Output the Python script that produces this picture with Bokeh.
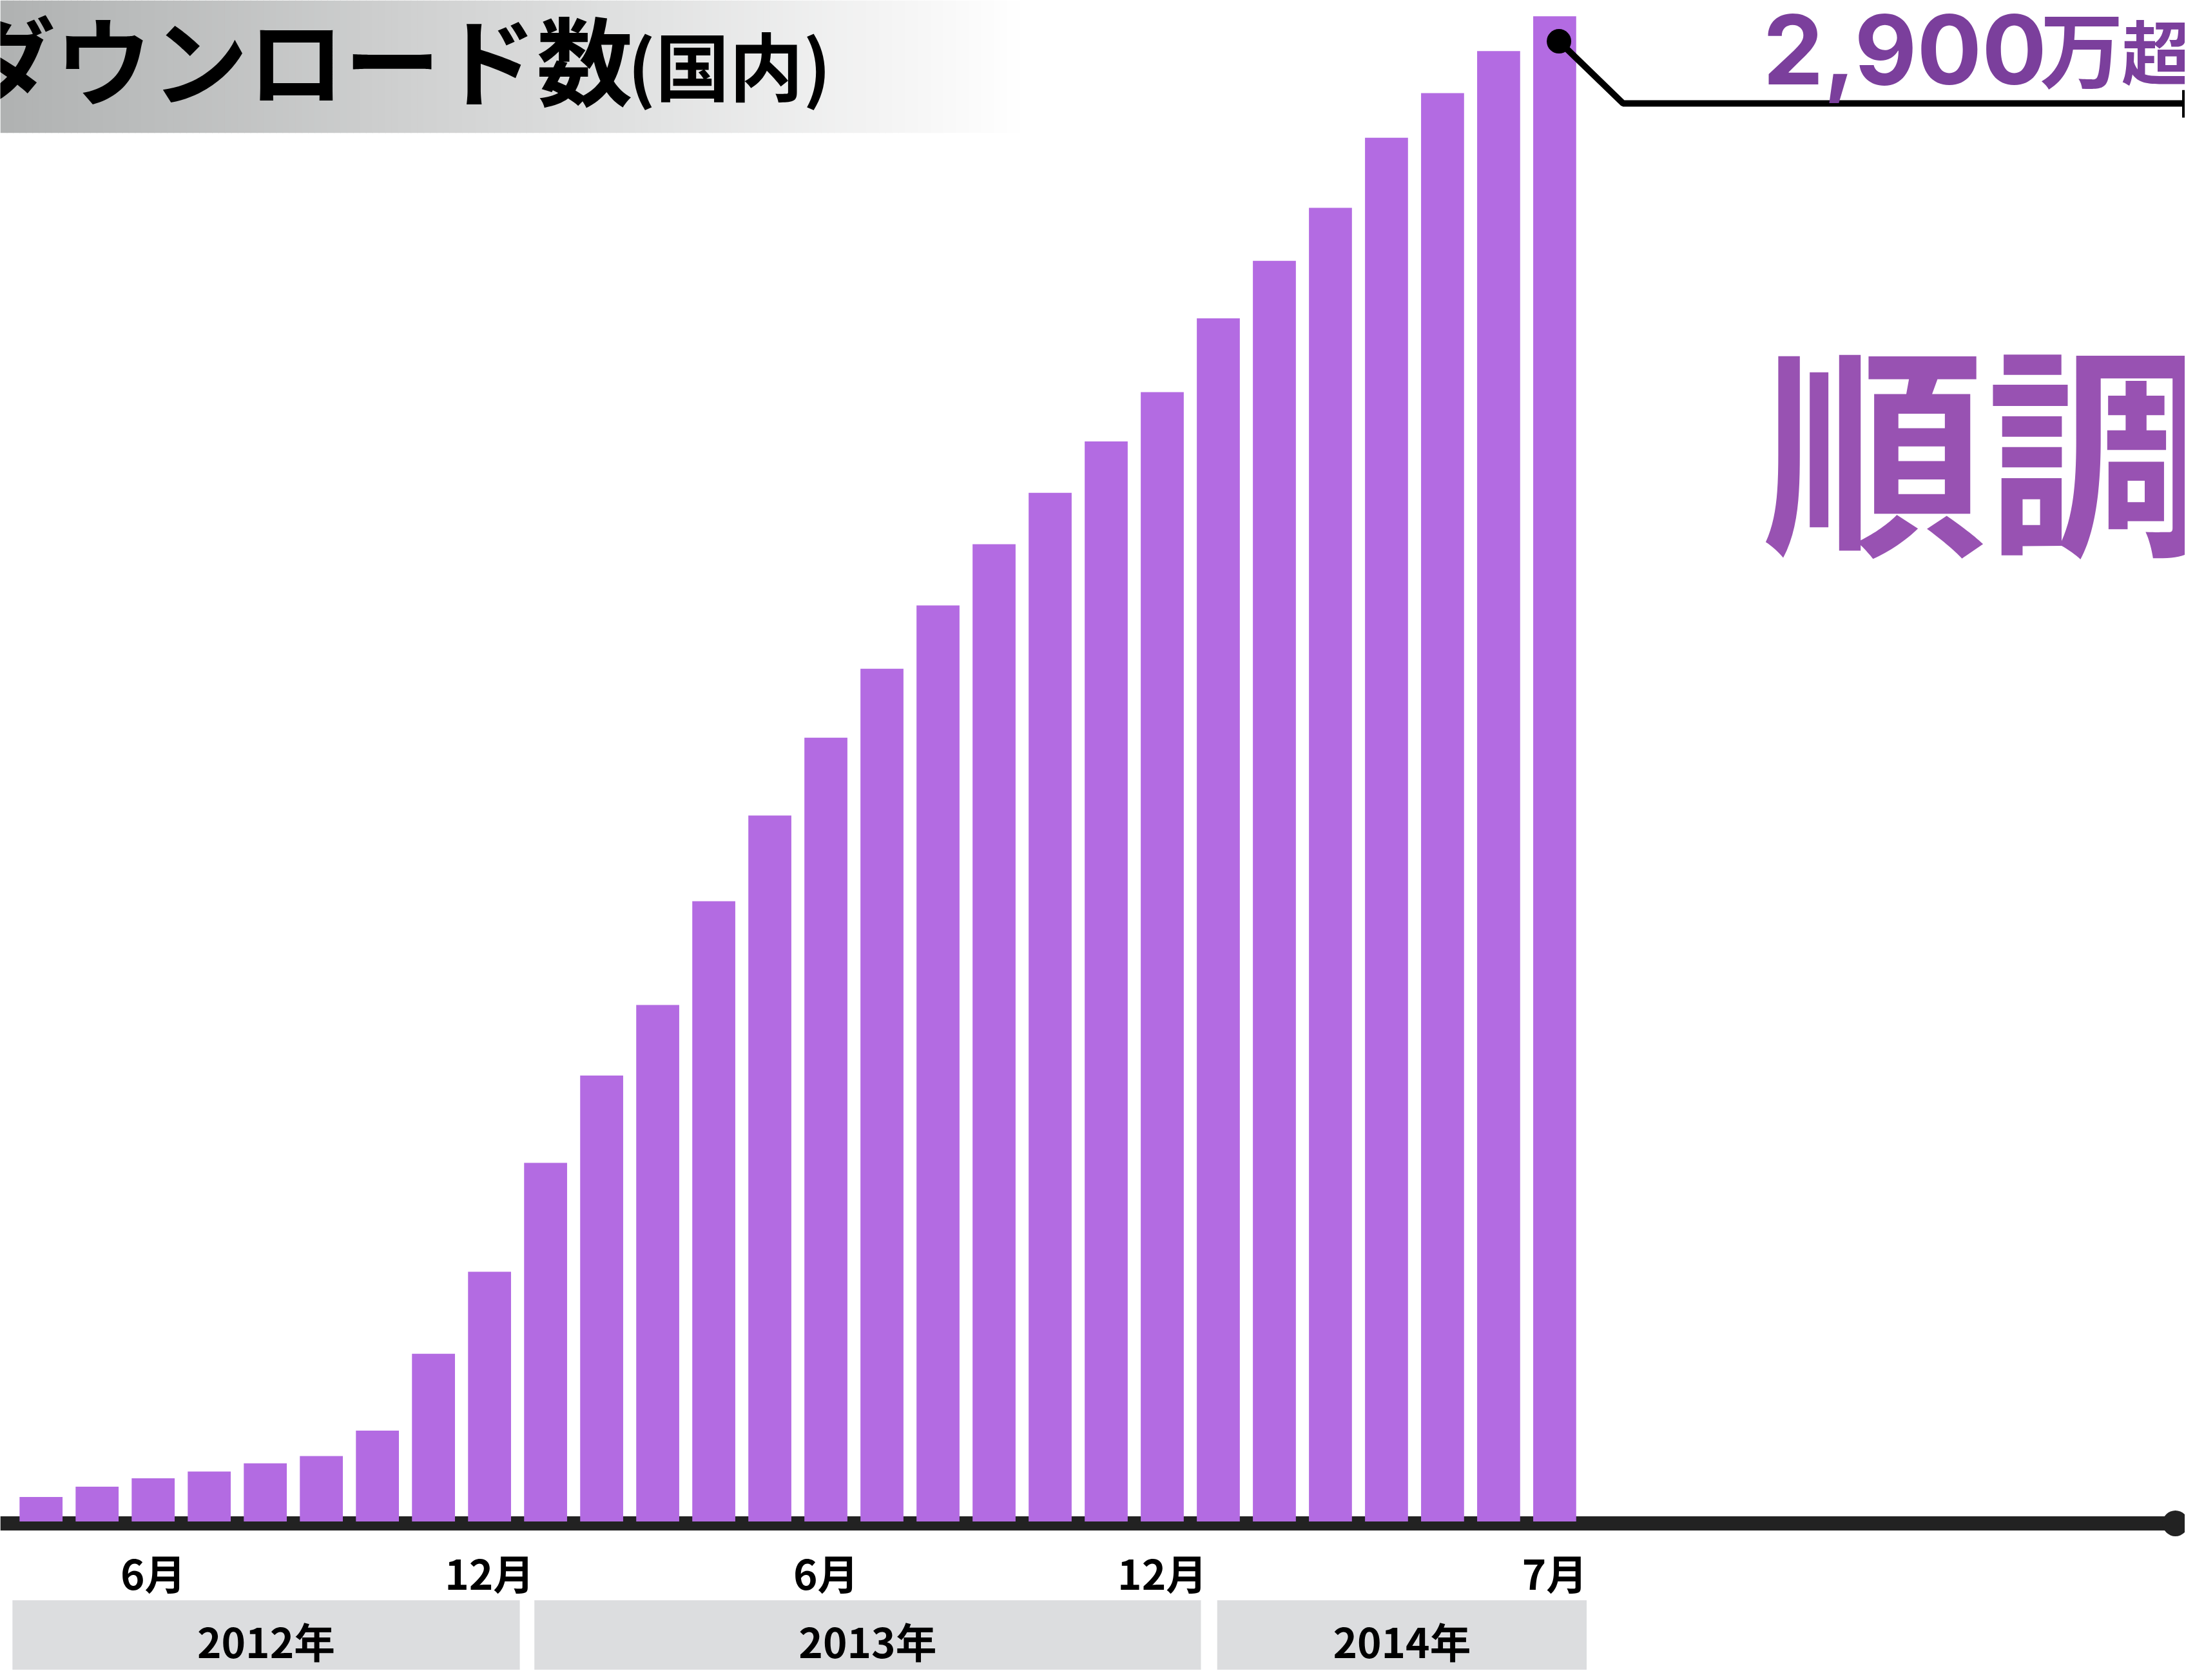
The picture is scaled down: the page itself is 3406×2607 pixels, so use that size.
from bokeh.plotting import figure
from bokeh.models import Range1d, Label, ColumnDataSource
from bokeh.core.properties import value
from bokeh.embed import file_html
from bokeh.resources import INLINE

# ---------------- data ----------------
months = ["2012-04", "2012-05", "2012-06", "2012-07", "2012-08", "2012-09", "2012-10",
          "2012-11", "2012-12", "2013-01", "2013-02", "2013-03", "2013-04", "2013-05",
          "2013-06", "2013-07", "2013-08", "2013-09", "2013-10", "2013-11", "2013-12",
          "2014-01", "2014-02", "2014-03", "2014-04", "2014-05", "2014-06", "2014-07"]
downloads_man = [47, 67, 83, 96, 112, 126, 175, 323, 481, 691, 859, 995, 1195, 1360,
                 1510, 1643, 1765, 1883, 1982, 2081, 2176, 2318, 2429, 2531, 2666, 2752,
                 2833, 2900]
tick_index = [2, 8, 14, 20, 27]
tick_labels = ["6月", "12月", "6月", "12月", "7月"]
years = ["2012年", "2013年", "2014年"]
year_first = [0, 9, 21]
year_last = [8, 20, 27]
title_main = "ダウンロード数"
title_sub = "(国内)"
total_num = "2,900"
total_unit = "万"
total_suffix = "超"
headline = "順調"

# ---------------- layout (reference pixel space) ----------------
W_REF, H_REF = 3406, 2607
W, H = 3390, 2591
fs = W / W_REF
BAR0, STEP, BASE, TOP_PX = 63.5, 87.4, 2375, 25
K = downloads_man[-1] / (BASE - TOP_PX)


def xr(px):
    return (px - BAR0) / STEP


def yr(py):
    return (BASE - py) * K


def fsz(px):
    return f"{px * fs:.1f}px"


p = figure(width=W, height=H,
           x_range=Range1d(xr(0), xr(W_REF)), y_range=Range1d(yr(H_REF), yr(0)),
           output_backend="svg", toolbar_location=None,
           x_axis_location=None, y_axis_location=None,
           min_border=0, outline_line_color=None,
           background_fill_color="white", border_fill_color="white")
p.grid.visible = False

CJK = "Noto Sans CJK JP"

# title band gradient
n = 161
c0 = (176, 178, 178)
lefts, rights, cols = [], [], []
for i in range(n):
    t = i / (n - 1)
    r, g, b = [int(round(c + (255 - c) * t)) for c in c0]
    lefts.append(xr(i * 10))
    rights.append(xr(i * 10 + 11))
    cols.append(f"#{r:02x}{g:02x}{b:02x}")
p.quad(left=lefts, right=rights, bottom=yr(207), top=yr(0), fill_color=cols, line_color=None)

p.add_layout(Label(x=xr(-64), y=yr(88), text=title_main, text_font=CJK, text_font_style="bold",
                   text_font_size=fsz(150), text_color="black", text_baseline="alphabetic"))
p.add_layout(Label(x=xr(978), y=yr(98), text=title_sub, text_font=CJK, text_font_style="bold",
                   text_font_size=fsz(115), text_color="black", text_baseline="alphabetic"))

# year bands
pad_l = [0.51, 0.20, 0.02]
pad_r = [0.54, 0.69, 0.57]
b_left = [f - a for f, a in zip(year_first, pad_l)]
b_right = [l + a for l, a in zip(year_last, pad_r)]
p.quad(left=b_left, right=b_right, bottom=yr(H_REF + 5), top=yr(2498),
       fill_color="#DCDDDF", line_color=None)
p.text(x=[(a + b) / 2 for a, b in zip(b_left, b_right)], y=[yr(2560)] * len(years), text=years,
       text_font=value(CJK), text_font_style="bold", text_font_size=value(fsz(64)),
       text_align="center", text_baseline="alphabetic", text_color="black")

# month tick labels
p.text(x=tick_index, y=[yr(2454)] * len(tick_index), text=tick_labels,
       text_font=value(CJK), text_font_style="bold", text_font_size=value(fsz(64)),
       text_align="center", text_baseline="alphabetic", text_color="black")

# baseline
p.line(x=[xr(0), xr(3391)], y=[yr(2378), yr(2378)], line_width=22, line_color="#222222")
p.scatter(x=[xr(3391)], y=[yr(2378)], size=40, fill_color="#222222", line_color=None)

# bars
src = ColumnDataSource(dict(x=list(range(len(months))), top=downloads_man, month=months))
p.vbar(x="x", top="top", bottom=0, width=0.767, source=src, fill_color="#B36BE2", line_color=None)

# callout
p.line(x=[xr(2430), xr(2530), xr(W_REF + 10)], y=[yr(64), yr(161), yr(161)],
       line_width=10, line_color="black")
p.segment(x0=[xr(3404)], y0=[yr(140)], x1=[xr(3404)], y1=[yr(183)], line_width=5, line_color="black")
p.scatter(x=[xr(2430)], y=[yr(64)], size=38, fill_color="black", line_color=None)

PURPLE = "#7B3F9C"
p.add_layout(Label(x=xr(2748), y=yr(76), text=total_num, text_font="Inter", text_font_style="bold",
                   text_font_size=fsz(150), text_color=PURPLE, text_baseline="alphabetic"))
p.add_layout(Label(x=xr(3180), y=yr(70), text=total_unit, text_font=CJK, text_font_style="bold",
                   text_font_size=fsz(130), text_color=PURPLE, text_baseline="alphabetic"))
p.add_layout(Label(x=xr(3307), y=yr(76), text=total_suffix, text_font=CJK, text_font_style="bold",
                   text_font_size=fsz(108), text_color=PURPLE, text_baseline="alphabetic"))

p.add_layout(Label(x=xr(2746), y=yr(687), text=headline, text_font=CJK, text_font_style="bold",
                   text_font_size=fsz(350), text_color="#9852B2", text_baseline="alphabetic"))

open("out.html", "w").write(file_html(p, INLINE))
